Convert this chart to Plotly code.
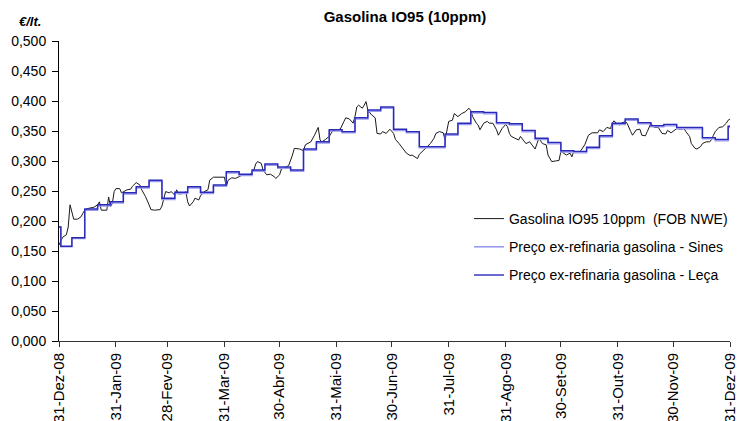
import pandas as pd
import plotly.graph_objects as go

# FOB NWE daily quotes: days after 31-Dez-08 and value (EUR/lt)
fob_days = [0, 2, 4, 5, 6, 7, 8, 10, 12, 13, 14, 16, 19, 21, 22, 23, 26, 27, 28, 29,
            30, 31, 33, 34, 37, 39, 40, 42, 44, 45, 47, 49, 50, 52, 55, 56, 58, 60, 61, 63,
            64, 65, 68, 69, 70, 71, 73, 74, 76, 77, 79, 81, 82, 84, 88, 90, 91, 92, 94, 96,
            98, 100, 104, 106, 107, 108, 110, 111, 113, 115, 117, 118, 120, 121, 123, 125, 127, 128, 131, 133,
            134, 137, 139, 141, 142, 143, 145, 147, 149, 151, 153, 155, 156, 158, 160, 161, 162, 163, 165, 166,
            167, 168, 170, 172, 173, 175, 176, 178, 180, 182, 183, 185, 187, 189, 191, 192, 195, 196, 198, 200,
            202, 204, 205, 207, 209, 210, 211, 212, 214, 215, 217, 219, 221, 223, 224, 225, 227, 228, 229, 231,
            233, 234, 236, 238, 239, 241, 243, 244, 245, 246, 248, 250, 251, 253, 254, 256, 258, 259, 260, 261,
            263, 265, 266, 268, 270, 272, 273, 276, 278, 279, 280, 283, 284, 286, 288, 290, 293, 294, 296, 298,
            300, 301, 302, 303, 305, 306, 308, 309, 311, 312, 314, 316, 317, 319, 320, 322, 323, 324, 326, 328,
            330, 331, 333, 335, 336, 338, 340, 341, 343, 344, 346, 347, 349, 350, 352, 354, 355, 356, 357, 359,
            361, 363, 364, 365]
fob_vals = [0.160, 0.173, 0.177, 0.190, 0.227, 0.213, 0.203, 0.203, 0.207, 0.213, 0.218, 0.221, 0.223, 0.227, 0.232, 0.218, 0.218, 0.240, 0.224, 0.229,
            0.249, 0.254, 0.254, 0.247, 0.252, 0.253, 0.258, 0.264, 0.260, 0.252, 0.241, 0.227, 0.219, 0.218, 0.219, 0.225, 0.249, 0.247, 0.249, 0.243,
            0.252, 0.245, 0.246, 0.249, 0.232, 0.225, 0.232, 0.238, 0.235, 0.242, 0.249, 0.252, 0.268, 0.273, 0.273, 0.273, 0.257, 0.268, 0.272, 0.271,
            0.274, 0.277, 0.277, 0.285, 0.295, 0.299, 0.296, 0.285, 0.277, 0.278, 0.274, 0.271, 0.277, 0.287, 0.288, 0.293, 0.310, 0.321, 0.320, 0.317,
            0.327, 0.332, 0.343, 0.356, 0.335, 0.332, 0.336, 0.341, 0.351, 0.352, 0.353, 0.366, 0.372, 0.370, 0.363, 0.374, 0.390, 0.393, 0.388, 0.393,
            0.399, 0.385, 0.377, 0.372, 0.346, 0.345, 0.349, 0.346, 0.353, 0.346, 0.336, 0.329, 0.321, 0.313, 0.309, 0.310, 0.304, 0.311, 0.317, 0.323,
            0.329, 0.338, 0.346, 0.349, 0.347, 0.335, 0.354, 0.366, 0.368, 0.379, 0.374, 0.379, 0.382, 0.388, 0.384, 0.374, 0.363, 0.360, 0.352, 0.363,
            0.366, 0.363, 0.363, 0.352, 0.343, 0.354, 0.361, 0.357, 0.346, 0.341, 0.338, 0.335, 0.341, 0.332, 0.329, 0.332, 0.323, 0.320, 0.329, 0.338,
            0.329, 0.327, 0.310, 0.299, 0.300, 0.301, 0.316, 0.310, 0.313, 0.307, 0.316, 0.314, 0.318, 0.327, 0.343, 0.347, 0.347, 0.352, 0.349, 0.356,
            0.354, 0.364, 0.367, 0.363, 0.360, 0.363, 0.366, 0.363, 0.349, 0.343, 0.352, 0.353, 0.343, 0.342, 0.349, 0.363, 0.358, 0.356, 0.356, 0.346,
            0.345, 0.351, 0.347, 0.352, 0.354, 0.353, 0.354, 0.349, 0.341, 0.329, 0.321, 0.320, 0.324, 0.329, 0.332, 0.332, 0.336, 0.343, 0.349, 0.356,
            0.357, 0.363, 0.368, 0.370]

# weekly ex-refinery prices (week starting dates below)
price_start = 0.190
leca_vals = [0.158, 0.172, 0.220, 0.227, 0.232, 0.247, 0.257, 0.268, 0.238, 0.248, 0.257, 0.248, 0.260, 0.282,
             0.278, 0.285, 0.295, 0.290, 0.285, 0.320, 0.332, 0.352, 0.349, 0.372, 0.385, 0.390, 0.353, 0.349,
             0.324, 0.324, 0.345, 0.363, 0.382, 0.381, 0.364, 0.362, 0.351, 0.338, 0.331, 0.317, 0.316, 0.323,
             0.342, 0.363, 0.370, 0.364, 0.359, 0.361, 0.356, 0.356, 0.339, 0.336, 0.358]
sines_vals = [0.157, 0.171, 0.218, 0.225, 0.230, 0.245, 0.255, 0.266, 0.236, 0.246, 0.255, 0.246, 0.258, 0.280,
              0.276, 0.283, 0.293, 0.288, 0.283, 0.318, 0.330, 0.350, 0.347, 0.370, 0.383, 0.388, 0.351, 0.347,
              0.322, 0.322, 0.343, 0.361, 0.380, 0.379, 0.362, 0.360, 0.349, 0.336, 0.329, 0.315, 0.314, 0.321,
              0.340, 0.361, 0.368, 0.362, 0.357, 0.359, 0.354, 0.354, 0.337, 0.334, 0.356]

tick_dates = ['2008-12-31', '2009-01-31', '2009-02-28', '2009-03-31', '2009-04-30', '2009-05-31', '2009-06-30',
              '2009-07-31', '2009-08-31', '2009-09-30', '2009-10-31', '2009-11-30', '2009-12-31']
tick_labels = ['31-Dez-08', '31-Jan-09', '28-Fev-09', '31-Mar-09', '30-Abr-09', '31-Mai-09', '30-Jun-09',
               '31-Jul-09', '31-Ago-09', '30-Set-09', '31-Out-09', '30-Nov-09', '31-Dez-09']

start = pd.Timestamp('2008-12-31')
fob_x = start + pd.to_timedelta(fob_days, unit='D')

week_x = [start, pd.Timestamp('2009-01-01')] + list(pd.date_range('2009-01-07', periods=52, freq='7D')) + [pd.Timestamp('2009-12-31')]
leca_y = [price_start] + leca_vals + [leca_vals[-1]]
sines_y = [price_start] + sines_vals + [sines_vals[-1]]

FONT = 'Arial, Liberation Sans, sans-serif'

fig = go.Figure()
fig.add_trace(go.Scatter(x=fob_x, y=fob_vals, mode='lines', name='Gasolina IO95 10ppm\u00a0\u00a0(FOB NWE)',
                         line=dict(color='#1a1a1a', width=1), legendgroup='a'))
fig.add_trace(go.Scatter(x=week_x, y=sines_y, mode='lines', name='Preço ex-refinaria gasolina - Sines',
                         line=dict(color='#9b9bf0', width=1.6, shape='hv'), legendgroup='b'))
fig.add_trace(go.Scatter(x=week_x, y=leca_y, mode='lines', name='Preço ex-refinaria gasolina - Leça',
                         line=dict(color='#2a2ab8', width=1.4, shape='hv'), legendgroup='c'))

# the page adds an 8px body margin, so the figure is 8px smaller than the window
fig.update_layout(
    width=742, height=413,
    margin=dict(l=51, r=20, t=33, b=80, autoexpand=False),
    paper_bgcolor='white', plot_bgcolor='white',
    separators=',.',
    font=dict(family=FONT, color='black', size=13),
    title=dict(text='<b>Gasolina IO95 (10ppm)</b>', x=0.5156, xref='paper', xanchor='center',
               y=0.979, yref='container', yanchor='middle', font=dict(size=15, family=FONT)),
    showlegend=True,
    legend=dict(x=0.611, y=0.46, xanchor='left', yanchor='top', bgcolor='rgba(0,0,0,0)',
                font=dict(size=14, family=FONT), traceorder='grouped', tracegroupgap=7),
    xaxis=dict(type='date', range=['2008-12-31', '2009-12-31'], tickvals=tick_dates, ticktext=tick_labels,
               tickangle=-90, ticks='outside', ticklen=5, tickcolor='#333', showline=True, linecolor='#333',
               linewidth=1, showgrid=False, zeroline=False, tickfont=dict(size=15, family=FONT)),
    yaxis=dict(range=[0, 0.5], dtick=0.05, tickformat='.3f', ticks='outside', ticklen=6, tickcolor='#000',
               showline=True, linecolor='#000', linewidth=1, showgrid=False, zeroline=False,
               tickfont=dict(size=14, family=FONT), ticklabelstandoff=3),
    annotations=[dict(text='<b><i>€/lt.</i></b>', x=(30 - 59) / 671, y=(341 - 21) / 300,
                      xref='paper', yref='paper', xanchor='center', yanchor='middle', showarrow=False,
                      font=dict(size=13, family=FONT))],
)

fig.write_html("out.html")
